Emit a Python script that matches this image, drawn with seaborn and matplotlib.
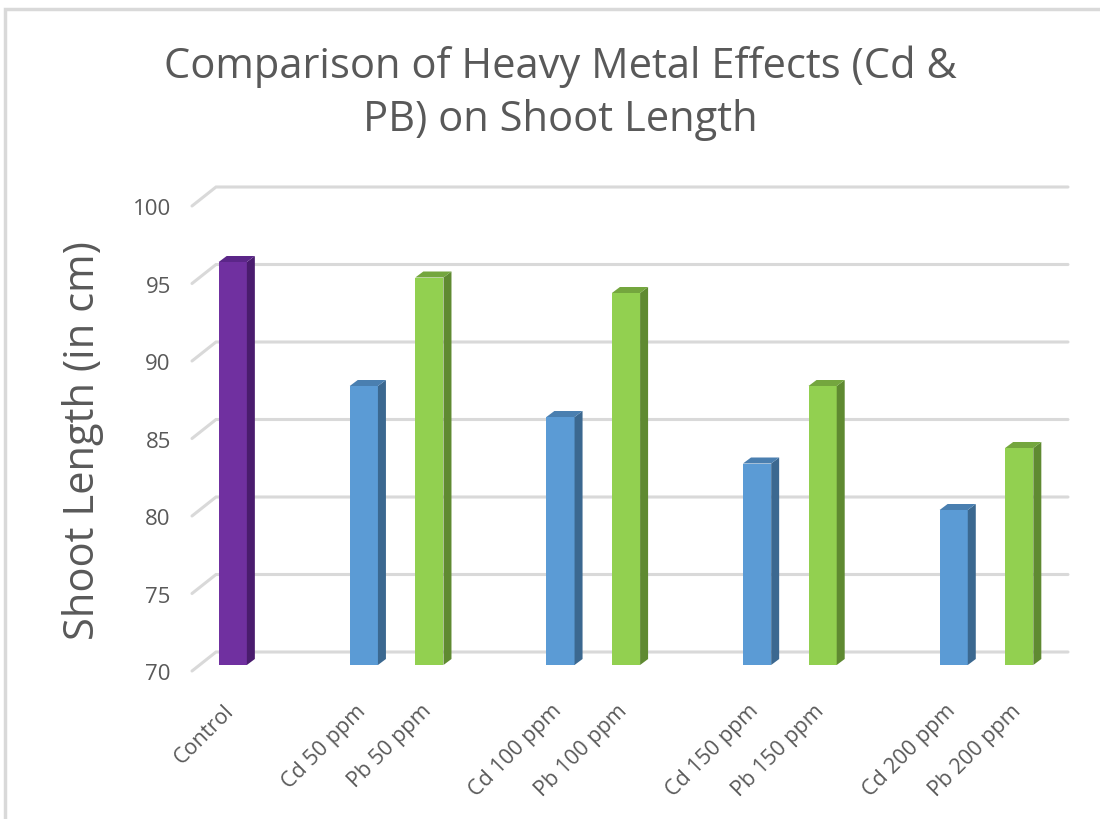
import pandas as pd
import seaborn as sns
import matplotlib.pyplot as plt
from matplotlib.transforms import IdentityTransform, ScaledTranslation
from matplotlib.patches import Polygon
from matplotlib.lines import Line2D

# ---- data -------------------------------------------------------------
categories = ["Control", "Cd 50 ppm", "Pb 50 ppm", "Cd 100 ppm", "Pb 100 ppm",
              "Cd 150 ppm", "Pb 150 ppm", "Cd 200 ppm", "Pb 200 ppm"]
groups = ["Control", "Cd", "Pb", "Cd", "Pb", "Cd", "Pb", "Cd", "Pb"]
shoot_length = [96, 88, 95, 86, 94, 83, 88, 80, 84]
y_ticks = [70, 75, 80, 85, 90, 95, 100]

title = "Comparison of Heavy Metal Effects (Cd &\nPB) on Shoot Length"
y_label = "Shoot Length (in cm)"

front_colors = {"Control": "#7030A0", "Cd": "#5B9BD5", "Pb": "#92D050"}
side_colors = {"Control": "#4A1C6E", "Cd": "#3B6890", "Pb": "#5F8A31"}
top_colors = {"Control": "#5B2688", "Cd": "#4A7FB0", "Pb": "#74A63E"}

# one blank slot between Control and each Cd/Pb pair
slots = [0] + [3 * (i // 2 + 1) - 1 + i % 2 for i in range(len(categories) - 1)]

df = pd.DataFrame({"slot": slots, "length": shoot_length,
                   "group": groups, "label": categories})

# ---- style ------------------------------------------------------------
sns.set_style("white")
plt.rcParams["font.family"] = ["Open Sans", "DejaVu Sans"]
TEXT = "#595959"
GRID = "#D9D9D9"

W, H = 1100, 820
fig = plt.figure(figsize=(W / 100, H / 100), dpi=100)
ax = fig.add_axes([200 / W, 1 - 666 / H, 852 / W, 465 / H])
ax.set_facecolor("none")

sns.barplot(data=df, x="slot", y="length", hue="group", palette=front_colors,
            native_scale=True, width=0.43, dodge=False, legend=False,
            saturation=1, ax=ax, zorder=3, linewidth=0, edgecolor="none")

ax.set_xlim(-0.5, 12.5)
ax.set_ylim(70, 100)
for s in ax.spines.values():
    s.set_visible(False)
ax.grid(False)
ax.set_xlabel("")

# pseudo-3D depth offsets (pixels)
DX, DY = 8, 6          # bar depth
FX, FY = -8, -6        # front edge of the floor
BX, BY = 16, 13        # back wall

T = ax.transData


def disp(x, y, ox=0, oy=0):
    px, py = T.transform((x, y))
    return (px + ox, py + oy)


# back-wall gridlines with the short floor diagonal on the left
for v in y_ticks:
    p0 = disp(-0.5, v, FX, FY)
    p1 = disp(-0.5, v, BX, BY)
    p2 = disp(12.5, v, BX, BY)
    ax.add_line(Line2D([p0[0], p1[0], p2[0]], [p0[1], p1[1], p2[1]],
                       transform=IdentityTransform(), color=GRID, lw=2.2,
                       zorder=1, clip_on=False, solid_joinstyle="miter"))

# side and top faces for every bar
bars = sorted(ax.patches, key=lambda p: p.get_x())
for bar, (_, row) in zip(bars, df.sort_values("slot").iterrows()):
    x0 = bar.get_x()
    x1 = x0 + bar.get_width()
    v = bar.get_y() + bar.get_height()
    g = row["group"]
    side = [disp(x1, 70), disp(x1, v), disp(x1, v, DX, DY), disp(x1, 70, DX, DY)]
    top = [disp(x0, v), disp(x1, v), disp(x1, v, DX, DY), disp(x0, v, DX, DY)]
    ax.add_patch(Polygon(side, closed=True, transform=IdentityTransform(),
                         fc=side_colors[g], ec="none", zorder=4, clip_on=False))
    ax.add_patch(Polygon(top, closed=True, transform=IdentityTransform(),
                         fc=top_colors[g], ec="none", zorder=4, clip_on=False))

# ---- axes text --------------------------------------------------------
ax.set_yticks(y_ticks)
ax.set_yticklabels([str(t) for t in y_ticks])
ax.tick_params(axis="y", length=0, pad=21, labelsize=16, labelcolor=TEXT)
yshift = ScaledTranslation(0, -6 / 100, fig.dpi_scale_trans)
for lbl in ax.get_yticklabels():
    lbl.set_transform(lbl.get_transform() + yshift)

ax.set_xticks(slots)
ax.set_xticklabels(categories, rotation=45, ha="right", va="top",
                   rotation_mode="anchor")
ax.tick_params(axis="x", length=0, pad=25, labelsize=15.5, labelcolor=TEXT)
xshift = ScaledTranslation(-9 / 100, 0, fig.dpi_scale_trans)
for lbl in ax.get_xticklabels():
    lbl.set_transform(lbl.get_transform() + xshift)

ax.set_ylabel(y_label, fontsize=30, color=TEXT, va="center")
ax.yaxis.set_label_coords((83 - 200) / 852, 0.485)

fig.text(560 / W, 1 - 93 / H, title, ha="center", va="center",
         fontsize=30, color=TEXT, linespacing=1.35)

# chart-area border (top and left edges fall inside the canvas)
fig.add_artist(Line2D([5, 5, W + 50], [-50, H - 10, H - 10],
                      transform=IdentityTransform(), color=GRID, lw=2.5,
                      solid_joinstyle="miter"))

fig.savefig("out.png", dpi=100)
